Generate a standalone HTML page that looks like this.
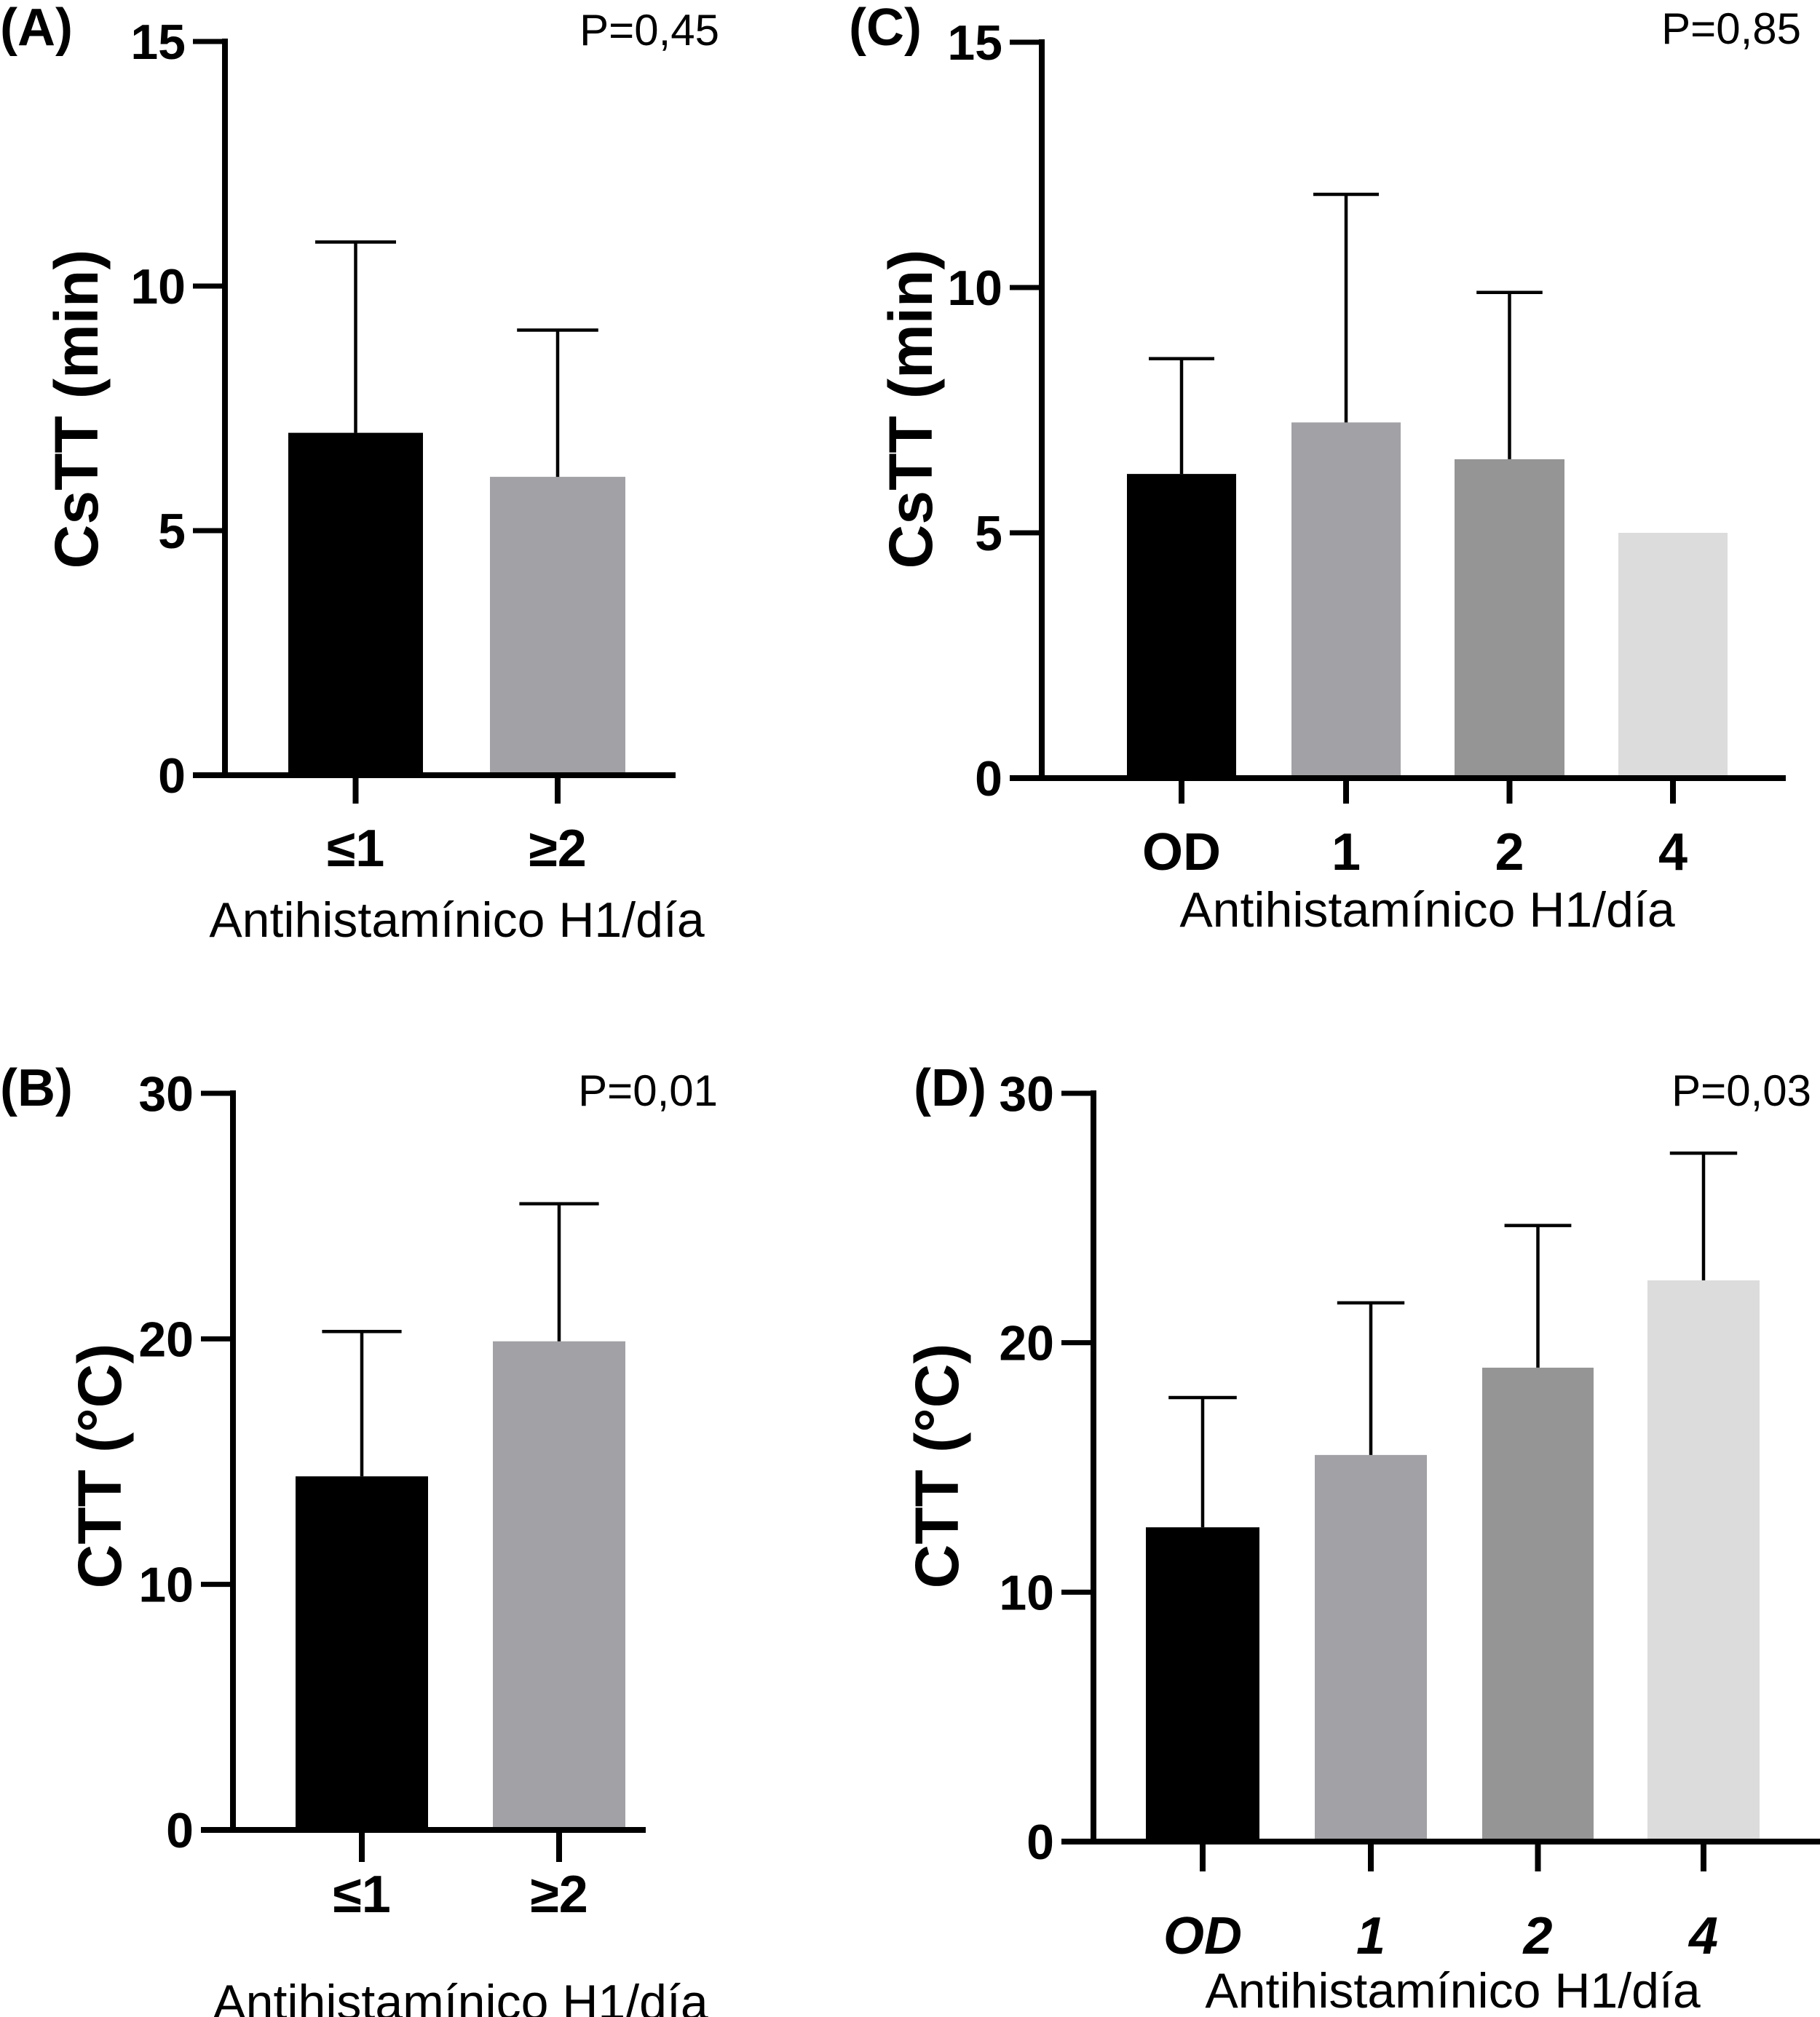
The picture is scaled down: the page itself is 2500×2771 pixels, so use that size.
<!DOCTYPE html>
<html><head><meta charset="utf-8">
<style>
html,body{margin:0;padding:0;background:#fff;}
svg{display:block;}
text{font-family:"Liberation Sans",Arial,sans-serif;}
</style></head>
<body>
<svg id="fig" width="2500" height="2771" viewBox="0 0 2500 2771" xmlns="http://www.w3.org/2000/svg"></svg>
<script>
// Panel A
const catsA = ["≤1", "≥2"];
const meanA = [7.0, 6.1];
const errA = [10.9, 9.1];
const ticksA = [0, 5, 10, 15];
// Panel B
const catsB = ["≤1", "≥2"];
const meanB = [14.4, 19.9];
const errB = [20.3, 25.5];
const ticksB = [0, 10, 20, 30];
// Panel C
const catsC = ["OD", "1", "2", "4"];
const meanC = [6.2, 7.25, 6.5, 5.0];
const errC = [8.55, 11.9, 9.9, null];
const ticksC = [0, 5, 10, 15];
// Panel D
const catsD = ["OD", "1", "2", "4"];
const meanD = [12.6, 15.5, 19.0, 22.5];
const errD = [17.8, 21.6, 24.7, 27.6];
const ticksD = [0, 10, 20, 30];

const NS = "http://www.w3.org/2000/svg";
const svg = document.getElementById('fig');
function mk(tag, attrs, parent, txt){
  const e = document.createElementNS(NS, tag);
  for (const k in attrs) e.setAttribute(k, attrs[k]);
  if (txt !== undefined) e.textContent = txt;
  (parent || svg).appendChild(e);
  return e;
}

const panels = [
  {id:'a', label:'(A)', lx:0, ly:62, cats:catsA, mean:meanA, err:errA, ticks:ticksA,
   ax:309, y0:1065, yTop:57, xEnd:928, bars:[[396,581],[673,859]],
   colors:['#000000','#a2a1a5'], ytitle:'CsTT (min)', ytx:106, yty:562,
   catY:1190, catStyle:'normal', tickDown:1104, xtitleY:1287, p:'P=0,45', px:988, py:62},
  {id:'b', label:'(B)', lx:0, ly:1519, cats:catsB, mean:meanB, err:errB, ticks:ticksB,
   ax:320, y0:2514, yTop:1502, xEnd:887, bars:[[406,588],[677,859]],
   colors:['#000000','#a2a1a5'], ytitle:'CTT (°C)', ytx:138, yty:2014,
   catY:2627, catStyle:'normal', tickDown:2558, xtitleY:2774, p:'P=0,01', px:986, py:1519},
  {id:'c', label:'(C)', lx:1166, ly:62, cats:catsC, mean:meanC, err:errC, ticks:ticksC,
   ax:1431, y0:1069, yTop:58, xEnd:2453, bars:[[1548,1698],[1774,1924],[1998,2149],[2223,2373]],
   colors:['#000000','#a2a1a5','#959595','#dcdcdc'], ytitle:'CsTT (min)', ytx:1252, yty:562,
   catY:1195, catStyle:'normal', tickDown:1104, xtitleY:1273, p:'P=0,85', px:2474, py:60},
  {id:'d', label:'(D)', lx:1255, ly:1519, cats:catsD, mean:meanD, err:errD, ticks:ticksD,
   ax:1502, y0:2530, yTop:1502, xEnd:2500, bars:[[1574,1730],[1806,1960],[2036,2189],[2263,2417]],
   colors:['#000000','#a2a1a5','#959595','#dcdcdc'], ytitle:'CTT (°C)', ytx:1288, yty:2014,
   catY:2684, catStyle:'italic', tickDown:2571, xtitleY:2758, p:'P=0,03', px:2488, py:1519}
];

panels.forEach(P => {
  const g = mk('g', {});
  
  
  const tmax = P.ticks[P.ticks.length-1];
  const yS = v => P.y0 - (v / tmax) * (P.y0 - P.yTop);

  const lab = mk('text', {x:P.lx, y:P.ly, 'font-size':72, 'font-weight':'bold'}, g, P.label);
  
  

  P.mean.forEach((v, i) => {
    const [x1, x2] = P.bars[i];
    const r = mk('rect', {x:x1, y:yS(v), width:x2-x1, height:P.y0-yS(v), fill:P.colors[i]}, g);
    
    
    const e = P.err[i];
    if (e !== null && e !== undefined) {
      const cx = (x1 + x2) / 2, cw = (x2 - x1) * 0.3;
      const eg = mk('g', {stroke:'#000', 'stroke-width':4.5}, g);
      
      
      mk('line', {x1:cx, x2:cx, y1:yS(v), y2:yS(e)}, eg);
      mk('line', {x1:cx-cw, x2:cx+cw, y1:yS(e), y2:yS(e)}, eg);
    }
    const xt = mk('line', {x1:(x1+x2)/2, x2:(x1+x2)/2, y1:P.y0, y2:P.tickDown, stroke:'#000', 'stroke-width':8}, g);
    
    
    const ct = mk('text', {x:(x1+x2)/2, y:P.catY, 'font-size':72, 'font-weight':'bold', 'font-style':P.catStyle, 'text-anchor':'middle'}, g, P.cats[i]);
    
    
  });

  const ya = mk('line', {x1:P.ax, x2:P.ax, y1:P.yTop-4, y2:P.y0+4, stroke:'#000', 'stroke-width':8}, g);
  
  
  const xa = mk('line', {x1:P.ax-44, x2:P.xEnd, y1:P.y0, y2:P.y0, stroke:'#000', 'stroke-width':8}, g);
  
  
  P.ticks.forEach(t => {
    const tl = mk('line', {x1:P.ax-44, x2:P.ax, y1:yS(t), y2:yS(t), stroke:'#000', 'stroke-width':7}, g);
    
    
    const tt = mk('text', {x:P.ax-54, y:yS(t)+24, 'font-size':68, 'font-weight':'bold', 'text-anchor':'end'}, g, String(t));
    
    
  });

  const yt = mk('text', {x:0, y:0, 'font-size':84, 'font-weight':'bold', 'text-anchor':'middle',
    transform:'translate(' + (P.ytx+28) + ',' + P.yty + ') rotate(-90)'}, g, P.ytitle);
  
  

  const cxm = (P.bars[0][0] + P.bars[P.bars.length-1][1]) / 2;
  const xtt = mk('text', {x:cxm, y:P.xtitleY, 'font-size':68, 'text-anchor':'middle'}, g, 'Antihistamínico H1/día');
  
  

  const pv = mk('text', {x:P.px, y:P.py, 'font-size':60, 'text-anchor':'end'}, g, P.p);
  
  
});
</script>
</body></html>
